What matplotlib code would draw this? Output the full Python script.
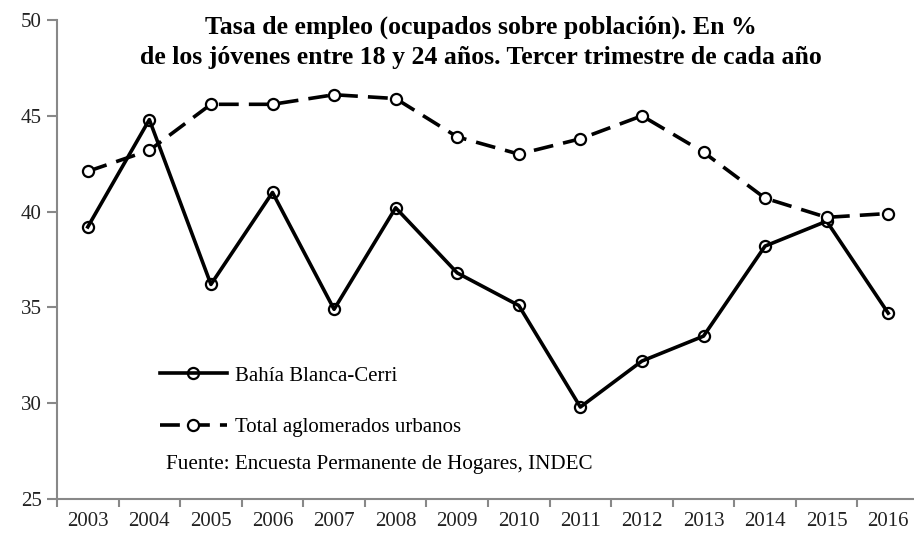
import matplotlib
matplotlib.use("Agg")
import matplotlib.pyplot as plt
from matplotlib.ticker import FixedLocator, NullFormatter

years = ["2003", "2004", "2005", "2006", "2007", "2008", "2009", "2010",
         "2011", "2012", "2013", "2014", "2015", "2016"]
bahia = [39.2, 44.8, 36.2, 41.0, 34.9, 40.2, 36.8, 35.1, 29.8, 32.2, 33.5, 38.2, 39.5, 34.7]
total = [42.1, 43.2, 45.6, 45.6, 46.1, 45.9, 43.9, 43.0, 43.8, 45.0, 43.1, 40.7, 39.7, 39.9]
yticks = [25, 30, 35, 40, 45, 50]

plt.rcParams['font.family'] = ['Liberation Serif', 'DejaVu Serif']

W, H = 914, 534
fig = plt.figure(figsize=(W / 100, H / 100), dpi=100)
ax = fig.add_axes([57 / W, (H - 499) / H, 862 / W, 479 / H])

x = list(range(len(years)))
ax.plot(x, bahia, color='black', lw=2.6, marker='o', ms=8, mfc='none',
        mec='black', mew=1.6, label='Bahía Blanca-Cerri', zorder=3)
ax.plot(x, total, color='black', lw=2.6, ls=(0, (5.5, 2.8)), marker='o', ms=8,
        mfc='white', mec='black', mew=1.6, label='Total aglomerados urbanos', zorder=3)

ax.set_xlim(-0.5, len(years) - 0.5)
ax.set_ylim(25, 50)
ax.set_yticks(yticks)
ax.set_xticks(x)
ax.set_xticklabels(years)
ax.xaxis.set_minor_locator(FixedLocator([i - 0.5 for i in range(len(years) + 1)]))
ax.xaxis.set_minor_formatter(NullFormatter())
ax.tick_params(axis='x', which='major', length=0, labelsize=15, pad=9, colors='#222222')
ax.tick_params(axis='x', which='minor', length=6, width=1.5, color='#888888', direction='out')
ax.tick_params(axis='y', length=7, width=1.5, color='#888888', labelsize=15, pad=4, labelcolor='#222222')
for lab in ax.get_xticklabels():
    lab.set_color('#222222')

for s in ['top', 'right']:
    ax.spines[s].set_visible(False)
for s in ['left', 'bottom']:
    ax.spines[s].set_color('#888888')
    ax.spines[s].set_linewidth(1.5)

fig.text(481 / W, 1 - 42 / H,
         "Tasa de empleo (ocupados sobre población). En %\n"
         "de los jóvenes entre 18 y 24 años. Tercer trimestre de cada año",
         ha='center', va='center', fontsize=18.5, fontweight='bold', linespacing=1.4)

leg = ax.legend(loc='upper left', bbox_to_anchor=((160 - 57) / 862, (499 - 366) / 479),
                frameon=False, fontsize=15, handlelength=3.2, handletextpad=0.4,
                labelspacing=1.55, borderaxespad=0, borderpad=0)

ax.text((166 - 57) / 862, (499 - 464) / 479,
        "Fuente: Encuesta Permanente de Hogares, INDEC",
        transform=ax.transAxes, ha='left', va='center', fontsize=15.2)

fig.savefig("out.png", dpi=100)
